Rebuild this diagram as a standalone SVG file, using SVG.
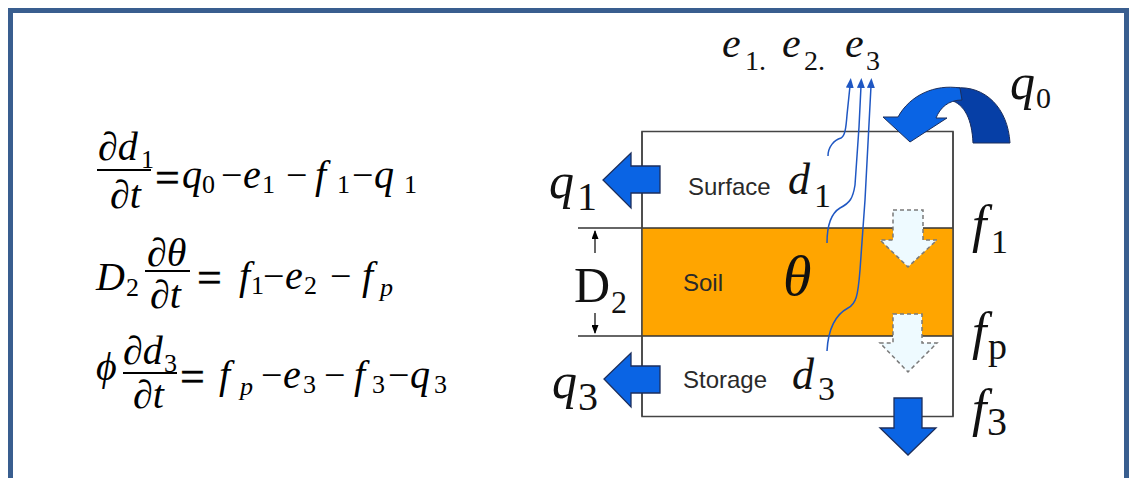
<svg xmlns="http://www.w3.org/2000/svg" width="1129" height="478" viewBox="0 0 1129 478">
<style>
.m{font-family:"Liberation Serif",serif;font-style:italic;font-size:40px;fill:#000}
.o{font-family:"Liberation Serif",serif;font-size:38px;fill:#000}
.eq{font-family:"Liberation Serif",serif;font-size:44px;fill:#000;stroke:#000;stroke-width:0.4}
.s{font-family:"Liberation Serif",serif;font-size:26px;fill:#000}
.si{font-family:"Liberation Serif",serif;font-style:italic;font-size:26px;fill:#000}
.bar{stroke:#000;stroke-width:1.8}
.L{font-family:"Liberation Serif",serif;font-style:italic;fill:#111}
.R{font-family:"Liberation Serif",serif;fill:#111}
.lbl{font-family:"Liberation Sans",sans-serif;font-size:24px;fill:#2a2a2a}
.blk{fill:#0a64e4;stroke:#1c2e5c;stroke-width:1.3}
.dsh{fill:#eefaff;stroke:#7a7a7a;stroke-width:1.5;stroke-dasharray:4 3}
.ev{fill:none;stroke:#1f57c3;stroke-width:1.5}
</style>
<defs>
<marker id="ah" markerUnits="userSpaceOnUse" markerWidth="10" markerHeight="8" refX="2" refY="4" orient="auto"><path d="M0,0 L10,4 L0,8 Z" fill="#1f57c3"/></marker>
<marker id="dk" markerUnits="userSpaceOnUse" markerWidth="9" markerHeight="7" refX="8" refY="3.5" orient="auto"><path d="M0,0 L9,3.5 L0,7 Z" fill="#000"/></marker>
</defs>
<rect x="10.5" y="10.5" width="1116" height="480" fill="#fff" stroke="#395e8f" stroke-width="5"/>

<g id="equation1">
<text class="m" x="98" y="160">∂d</text><text class="s" x="141" y="168">1</text>
<line class="bar" x1="97" y1="170" x2="151" y2="170"/>
<text class="m" x="110" y="208">∂t</text>
<text class="eq" x="155" y="192">=</text>
<text class="m" x="182" y="188">q</text><text class="s" x="202" y="193">0</text>
<text class="o" x="221" y="188">−</text>
<text class="m" x="243" y="188">e</text><text class="s" x="262" y="193">1</text>
<text class="o" x="286" y="188">−</text>
<text class="m" x="315" y="188">f</text><text class="s" x="337" y="193">1</text>
<text class="o" x="352" y="188">−</text>
<text class="m" x="374" y="188">q</text><text class="s" x="404" y="193">1</text>
</g>

<g id="equation2">
<text class="m" x="96" y="290">D</text><text class="s" x="126" y="296" font-size="22">2</text>
<text class="m" x="147" y="266">∂θ</text>
<line class="bar" x1="145" y1="271" x2="190" y2="271"/>
<text class="m" x="150" y="308">∂t</text>
<text class="eq" x="197" y="292">=</text>
<text class="m" x="239" y="289">f</text><text class="s" x="251" y="294">1</text>
<text class="o" x="263" y="289">−</text>
<text class="m" x="285" y="289">e</text><text class="s" x="304" y="294">2</text>
<text class="o" x="330" y="289">−</text>
<text class="m" x="362" y="289">f</text><text class="si" x="380" y="296">p</text>
</g>

<g id="equation3">
<text class="m" x="96" y="380">ϕ</text>
<text class="m" x="123" y="364">∂d</text><text class="s" x="164" y="372">3</text>
<line class="bar" x1="123" y1="373" x2="177" y2="373"/>
<text class="m" x="133" y="408">∂t</text>
<text class="eq" x="180" y="391">=</text>
<text class="m" x="219" y="388">f</text><text class="si" x="240" y="395">p</text>
<text class="o" x="261" y="388">−</text>
<text class="m" x="283" y="388">e</text><text class="s" x="303" y="393">3</text>
<text class="o" x="324" y="388">−</text>
<text class="m" x="354" y="388">f</text><text class="s" x="372" y="393">3</text>
<text class="o" x="388" y="388">−</text>
<text class="m" x="410" y="388">q</text><text class="s" x="434" y="393">3</text>
</g>

<g id="column">
<rect x="642" y="131.5" width="311" height="285" fill="#fff" stroke="#444" stroke-width="1.5"/>
<rect x="642" y="228" width="311" height="108" fill="#ffa500"/>
<line x1="578" y1="228" x2="953" y2="228" stroke="#333" stroke-width="1.5"/>
<line x1="578" y1="336" x2="953" y2="336" stroke="#333" stroke-width="1.5"/>
<line x1="642" y1="131.5" x2="642" y2="416.5" stroke="#444" stroke-width="1.5"/>
<line x1="953" y1="131.5" x2="953" y2="416.5" stroke="#444" stroke-width="1.5"/>
</g>

<g id="surface">
<text class="lbl" x="688" y="195">Surface</text>
<text class="L" x="788" y="194" font-size="44">d</text><text class="R" x="814" y="207" font-size="34">1</text>
</g>
<g id="soil">
<text class="lbl" x="683" y="291">Soil</text>
<text class="L" x="783" y="295" font-size="58">θ</text>
</g>
<g id="storage">
<text class="lbl" x="683" y="388" font-size="25">Storage</text>
<text class="L" x="792" y="389" font-size="44">d</text><text class="R" x="818" y="400" font-size="34">3</text>
</g>

<g id="depth-D2">
<line x1="595" y1="253" x2="595" y2="231" stroke="#000" stroke-width="1.2" marker-end="url(#dk)"/>
<line x1="595" y1="313" x2="595" y2="333" stroke="#000" stroke-width="1.2" marker-end="url(#dk)"/>
<text class="R" x="574" y="302" font-size="50">D</text><text class="R" x="611" y="313" font-size="32">2</text>
</g>

<g id="connectors">
<path class="ev" d="M828,156 C828,147 834,140 841,138 C845,136 846,128 847,115 L850,86" marker-end="url(#ah)"/>
<path class="ev" d="M827,243 C827,228 830,214 840,208 C850,203 853,198 855,185 L859,127 L861,86" marker-end="url(#ah)"/>
<path class="ev" d="M827,351 C828,332 833,316 848,308 C856,304 858,296 860,270 L865,200 L871,86" marker-end="url(#ah)"/>
</g>

<g id="evap-labels">
<text class="L" x="722" y="57" font-size="42">e</text><text class="R" x="745" y="70" font-size="28">1.</text>
<text class="L" x="782" y="57" font-size="42">e</text><text class="R" x="804" y="70" font-size="28">2.</text>
<text class="L" x="845" y="57" font-size="42">e</text><text class="R" x="866" y="70" font-size="28">3</text>
</g>

<g id="q0-arrow">
<path d="M955,88 C985,85 1008,108 1010,143 L973,143 C972,120 965,104 950,100 Z" fill="#063fa6" stroke="#1c2e5c" stroke-width="1"/>
<path d="M883,117 L910,142 L947,118 L936,118 C940,108 948,100 962,100 L960,88 C935,84 910,95 898,117 Z" fill="#0a64e4" stroke="#1c2e5c" stroke-width="1"/>
<text class="L" x="1010" y="99" font-size="50">q</text><text class="R" x="1036" y="108" font-size="30">0</text>
</g>

<g id="q1-arrow">
<polygon class="blk" points="660,166 631,166 631,153 603,180 631,208 631,193 660,193"/>
<text class="L" x="549" y="198" font-size="50">q</text><text class="R" x="577" y="210" font-size="40">1</text>
</g>
<g id="q3-arrow">
<polygon class="blk" points="660,366 631,366 631,353 604,379 631,407 631,393 660,393"/>
<text class="L" x="552" y="398" font-size="50">q</text><text class="R" x="578" y="410" font-size="40">3</text>
</g>

<g id="f1-arrow">
<polygon class="dsh" points="893,210 923,210 923,240 937,240 908,267 880,240 893,240"/>
<text class="L" x="972" y="242" font-size="52">f</text><text class="R" x="991" y="253" font-size="34">1</text>
</g>
<g id="fp-arrow">
<polygon class="dsh" points="893,314 922,314 922,343 937,343 908,372 880,343 893,343"/>
<text class="L" x="972" y="349" font-size="52">f</text><text class="R" x="988" y="359" font-size="38">p</text>
</g>
<g id="f3-arrow">
<polygon class="blk" points="894,398 922,398 922,428 936,428 908,455 880,428 894,428"/>
<text class="L" x="972" y="426" font-size="52">f</text><text class="R" x="987" y="435" font-size="40">3</text>
</g>
</svg>
